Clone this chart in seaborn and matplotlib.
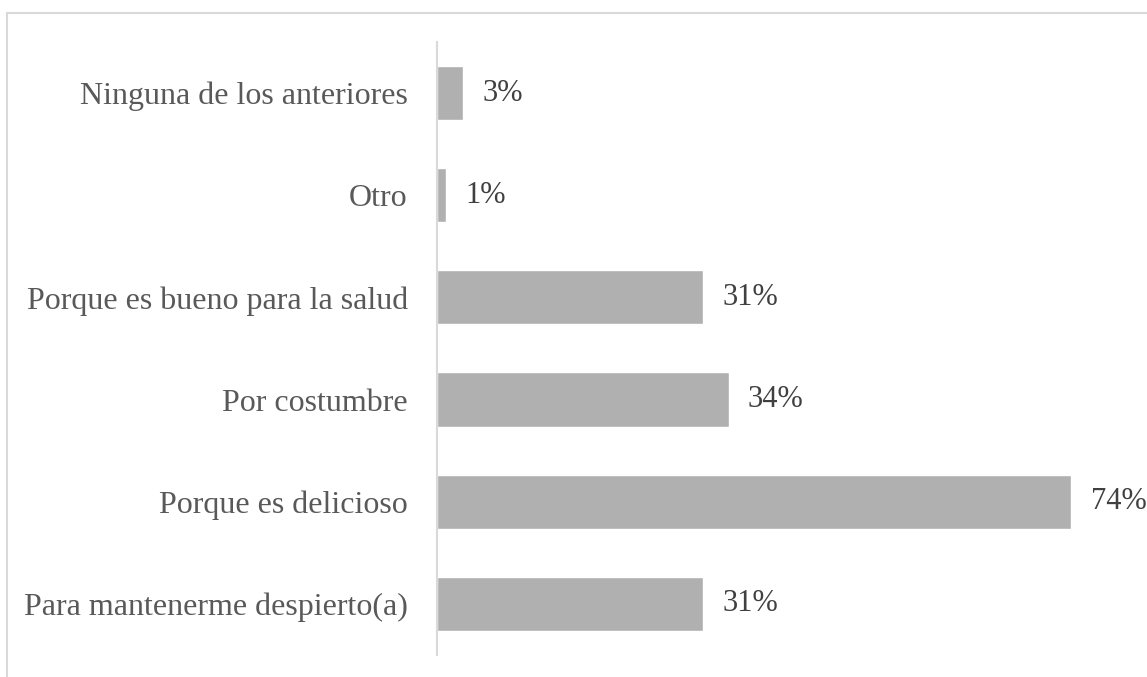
import pandas as pd
import matplotlib
matplotlib.use('Agg')
import matplotlib.pyplot as plt
from matplotlib.lines import Line2D
import seaborn as sns

# Data
motivos = ["Ninguna de los anteriores", "Otro", "Porque es bueno para la salud",
           "Por costumbre", "Porque es delicioso", "Para mantenerme despierto(a)"]
porcentajes = [3, 1, 31, 34, 74, 31]

df = pd.DataFrame({"Motivo": motivos, "Porcentaje": porcentajes})

sns.set_style("white")
plt.rcParams['font.family'] = ['Liberation Serif', 'DejaVu Serif']

fig = plt.figure(figsize=(11.47, 6.77), dpi=100)
ax = fig.add_axes([0.381, 0.0325, 0.598, 0.9055])

sns.barplot(data=df, x="Porcentaje", y="Motivo", orient="h", color="#b0b0b0",
            width=0.53, saturation=1, ax=ax)

ax.bar_label(ax.containers[0], labels=[f"{v}%" for v in porcentajes],
             padding=14, fontsize=22, color="#404040")

ax.set_xlim(0, 80)
ax.set_ylim(5.5, -0.5)
ax.set_xlabel("")
ax.set_ylabel("")
ax.set_xticks([])
ax.tick_params(axis="y", length=0, pad=21, labelsize=23, labelcolor="#595959")
for s in ["top", "right", "bottom"]:
    ax.spines[s].set_visible(False)
ax.spines["left"].set_color("#d9d9d9")
ax.spines["left"].set_linewidth(1.5)

# outer chart frame (top and left edges)
fig.add_artist(Line2D([7 / 1147, 1], [1 - 13 / 677, 1 - 13 / 677],
                      transform=fig.transFigure, color="#d9d9d9", lw=1.5))
fig.add_artist(Line2D([7 / 1147, 7 / 1147], [0, 1 - 13 / 677],
                      transform=fig.transFigure, color="#d9d9d9", lw=1.5))

fig.savefig("out.png", dpi=100)
plt.close()
